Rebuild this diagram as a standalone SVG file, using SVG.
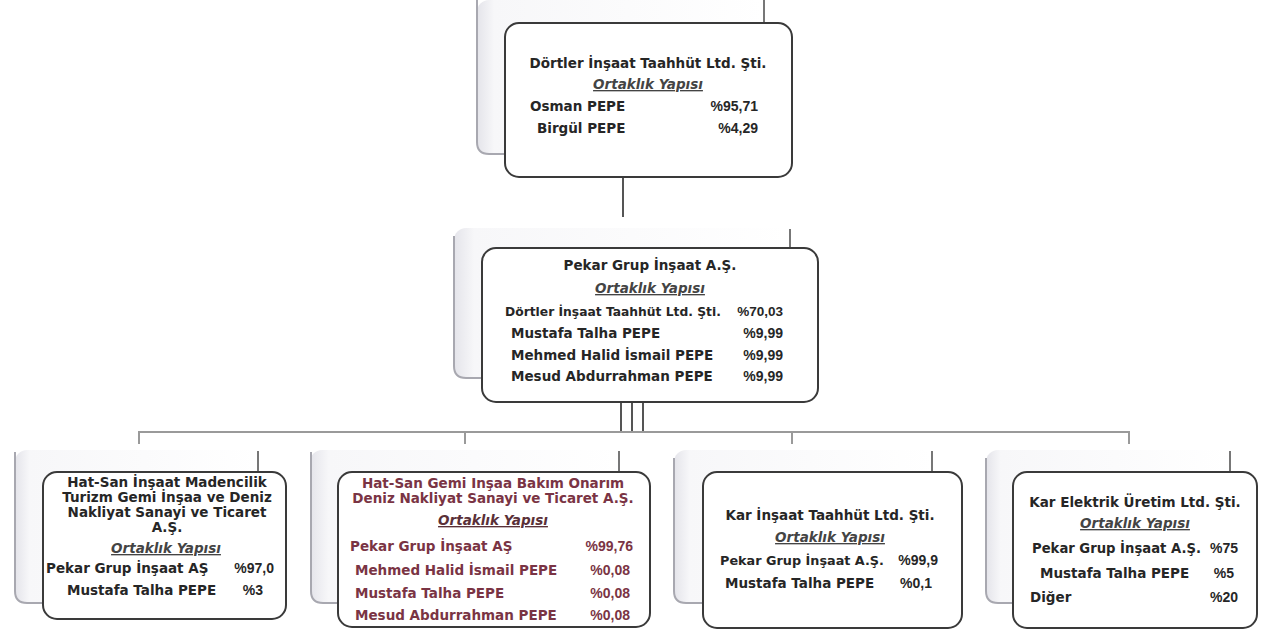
<svg xmlns="http://www.w3.org/2000/svg" width="1263" height="632" viewBox="0 0 1263 632">
<style>
text{font-family:"DejaVu Sans","Liberation Sans",sans-serif;font-weight:bold;font-size:13.5px;fill:#262626}
.t{text-anchor:middle}
.o{text-anchor:middle;font-style:italic;text-decoration:underline;fill:#444}
.e{text-anchor:end;font-family:"Liberation Sans",Arial,sans-serif;font-size:14px}
.m text{fill:#7a3444}
.box{fill:#fff;stroke:#3a3a3a;stroke-width:2}
.sh{fill:url(#sg);stroke:none}
.shl{fill:none;stroke:#a8a8b0;stroke-width:2}
.shr{fill:none;stroke:#555;stroke-width:1.6}
.c{fill:none;stroke:#9a9a9a;stroke-width:2}
.cd{fill:none;stroke:#555;stroke-width:2}
</style>
<defs>
<linearGradient id="sg" x1="0" y1="0" x2="1" y2="0">
<stop offset="0" stop-color="#e4e4ea"/>
<stop offset="0.06" stop-color="#f7f7f9"/>
<stop offset="1" stop-color="#ffffff"/>
</linearGradient>
</defs>
<rect width="1263" height="632" fill="#fff"/>

<g id="connectors">
<line class="cd" x1="623" y1="177" x2="623" y2="217"/>
<line class="cd" x1="621" y1="403" x2="621" y2="431"/>
<line class="cd" x1="632" y1="403" x2="632" y2="431"/>
<line class="cd" x1="643" y1="403" x2="643" y2="431"/>
<line class="c" x1="138" y1="432" x2="1130" y2="432"/>
<line class="c" x1="139" y1="432" x2="139" y2="444"/>
<line class="c" x1="465" y1="432" x2="465" y2="444"/>
<line class="c" x1="792" y1="432" x2="792" y2="444"/>
<line class="c" x1="1129" y1="432" x2="1129" y2="444"/>
</g>

<g id="node-dortler">
<rect class="sh" x="477" y="0" width="287" height="154" rx="12"/>
<path class="shl" d="M477 0 V142 Q477 154 489 154 H505"/>
<path class="shr" d="M764 0 V23"/>
<rect class="box" x="505" y="23" width="287" height="154" rx="14"/>
<text class="t" x="648" y="68">Dörtler İnşaat Taahhüt Ltd. Şti.</text>
<text class="o" x="648" y="89">Ortaklık Yapısı</text>
<text x="530" y="111">Osman PEPE</text><text class="e" x="758" y="111">%95,71</text>
<text x="537" y="133">Birgül PEPE</text><text class="e" x="758" y="133">%4,29</text>
</g>

<g id="node-pekar">
<rect class="sh" x="454" y="228" width="336" height="150" rx="12"/>
<path class="shl" d="M454 236 V366 Q454 378 466 378 H482"/>
<path class="shr" d="M790 229 V248"/>
<rect class="box" x="482" y="248" width="336" height="154" rx="14"/>
<text class="t" x="650" y="270">Pekar Grup İnşaat A.Ş.</text>
<text class="o" x="650" y="293">Ortaklık Yapısı</text>
<text x="505" y="316" style="font-size:12.3px">Dörtler İnşaat Taahhüt Ltd. Şti.</text><text class="e" x="783" y="316" style="font-size:13.5px">%70,03</text>
<text x="511" y="338">Mustafa Talha PEPE</text><text class="e" x="783" y="338">%9,99</text>
<text x="511" y="360">Mehmed Halid İsmail PEPE</text><text class="e" x="783" y="360">%9,99</text>
<text x="511" y="381">Mesud Abdurrahman PEPE</text><text class="e" x="783" y="381">%9,99</text>
</g>

<g id="node-hatsan-insaat">
<rect class="sh" x="15" y="450" width="243" height="153" rx="12"/>
<path class="shl" d="M15 452 V591 Q15 603 27 603 H43"/>
<path class="shr" d="M258 451 V472"/>
<rect class="box" x="43" y="472" width="243" height="147" rx="14"/>
<text class="t" x="167" y="487">Hat-San İnşaat Madencilik</text>
<text class="t" x="167" y="502">Turizm Gemi İnşaa ve Deniz</text>
<text class="t" x="167" y="517">Nakliyat Sanayi ve Ticaret</text>
<text class="t" x="167" y="532">A.Ş.</text>
<text class="o" x="166" y="553">Ortaklık Yapısı</text>
<text x="46" y="573">Pekar Grup İnşaat AŞ</text><text class="e" x="274" y="573">%97,0</text>
<text x="67" y="595">Mustafa Talha PEPE</text><text class="e" x="263" y="595">%3</text>
</g>

<g id="node-hatsan-gemi" class="m">
<rect class="sh" x="310" y="450" width="310" height="153" rx="12"/>
<path class="shl" d="M311 452 V591 Q311 603 323 603 H338"/>
<path class="shr" d="M619 451 V472"/>
<rect class="box" x="338" y="472" width="312" height="155" rx="14"/>
<text class="t" x="493" y="488">Hat-San Gemi Inşaa Bakım Onarım</text>
<text class="t" x="493" y="503">Deniz Nakliyat Sanayi ve Ticaret A.Ş.</text>
<text class="o" x="493" y="525" style="fill:#5a3038">Ortaklık Yapısı</text>
<text x="350" y="551">Pekar Grup İnşaat AŞ</text><text class="e" x="633" y="551">%99,76</text>
<text x="355" y="575">Mehmed Halid İsmail PEPE</text><text class="e" x="630" y="575">%0,08</text>
<text x="355" y="598">Mustafa Talha PEPE</text><text class="e" x="630" y="598">%0,08</text>
<text x="355" y="620">Mesud Abdurrahman PEPE</text><text class="e" x="630" y="620">%0,08</text>
</g>

<g id="node-kar-insaat">
<rect class="sh" x="674" y="450" width="259" height="153" rx="12"/>
<path class="shl" d="M674 458 V591 Q674 603 686 603 H703"/>
<path class="shr" d="M932 451 V472"/>
<rect class="box" x="703" y="472" width="259" height="156" rx="14"/>
<text class="t" x="830" y="520">Kar İnşaat Taahhüt Ltd. Şti.</text>
<text class="o" x="830" y="542">Ortaklık Yapısı</text>
<text x="720" y="565" style="font-size:12.8px">Pekar Grup İnşaat A.Ş.</text><text class="e" x="938" y="565">%99,9</text>
<text x="725" y="588">Mustafa Talha PEPE</text><text class="e" x="932" y="588">%0,1</text>
</g>

<g id="node-kar-elektrik">
<rect class="sh" x="986" y="450" width="244" height="153" rx="12"/>
<path class="shl" d="M986 458 V591 Q986 603 998 603 H1013"/>
<path class="shr" d="M1230 451 V472"/>
<rect class="box" x="1013" y="472" width="244" height="156" rx="14"/>
<text class="t" x="1135" y="507">Kar Elektrik Üretim Ltd. Şti.</text>
<text class="o" x="1135" y="528">Ortaklık Yapısı</text>
<text x="1032" y="553" style="font-size:13.2px">Pekar Grup İnşaat A.Ş.</text><text class="e" x="1238" y="553">%75</text>
<text x="1040" y="578">Mustafa Talha PEPE</text><text class="e" x="1234" y="578">%5</text>
<text x="1030" y="602">Diğer</text><text class="e" x="1238" y="602">%20</text>
</g>
</svg>
